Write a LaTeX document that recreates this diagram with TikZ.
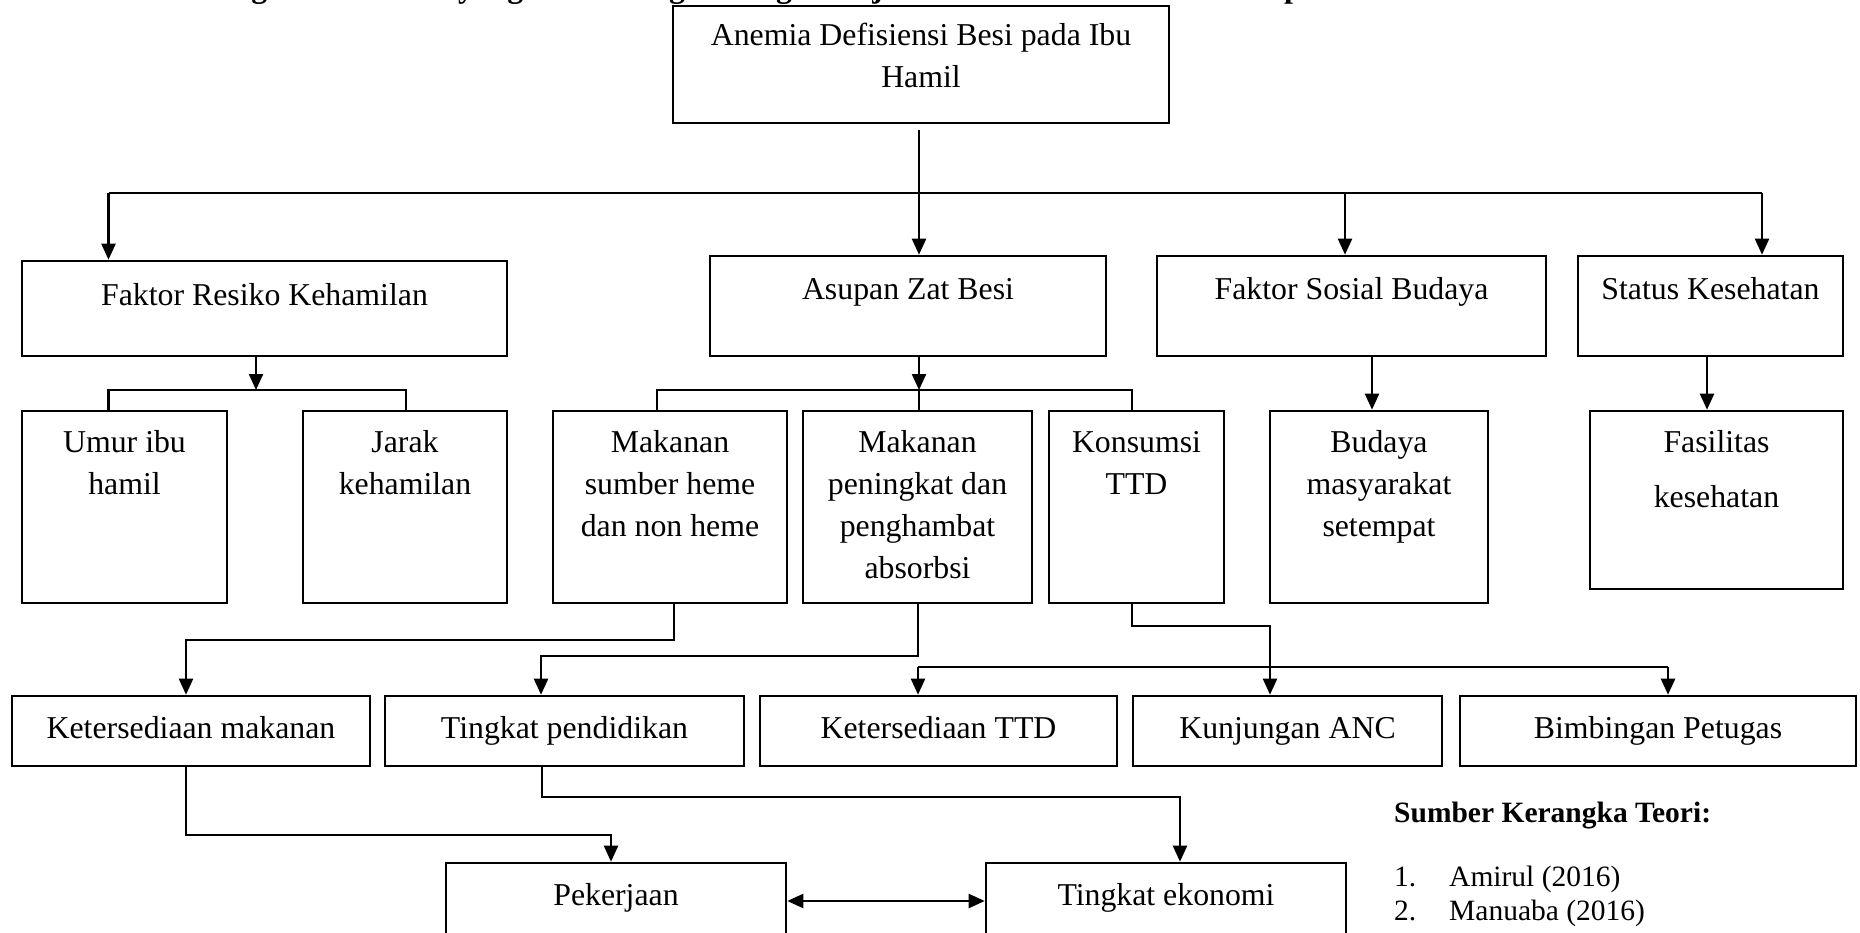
\documentclass[tikz,border=0pt]{standalone}
\usepackage{fontspec}
\setmainfont{Liberation Serif}
\usetikzlibrary{arrows.meta,fit,calc}
\newcommand\mlines[1]{\begin{tabular}[t]{@{}c@{}}#1\end{tabular}}
\begin{document}
\begin{tikzpicture}[x=1pt,y=-1pt,
  boxst/.style={draw=black,line width=2.6pt,inner sep=0pt},
  txt/.style={inner sep=0pt,anchor=base,font=\fontsize{31.8}{42}\selectfont},
  srcb/.style={inner sep=0pt,anchor=base west,font=\fontsize{29.5}{36}\selectfont\bfseries},
  src/.style={inner sep=0pt,anchor=base west,font=\fontsize{29.5}{36}\selectfont},
  ln/.style={draw=black,line width=2.3pt},
  arr/.style={ln,-{Triangle[length=16pt,width=14pt]}},
  darr/.style={ln,{Triangle[length=16pt,width=14pt]}-{Triangle[length=16pt,width=14pt]}}]
\useasboundingbox (0,0) rectangle (1860,933);
\fill[white] (0,0) rectangle (1860,933);

% clipped title (only descenders visible)
\node[inner sep=0pt,anchor=base west,font=\fontsize{31.8}{42}\selectfont\bfseries] (title) at (214,-2)
  {Bagan 2.1 Faktor yang Berhubungan dengan Kejadian Anemia Defisiensi Besi pada Ibu Hamil};

% boxes
\node[boxst,fit={(673,6)(1169,123)}] (top) {};
\node[boxst,fit={(22,261)(507,356)}] (fr) {};
\node[boxst,fit={(710,256)(1106,356)}] (az) {};
\node[boxst,fit={(1157,256)(1546,356)}] (fs) {};
\node[boxst,fit={(1578,256)(1843,356)}] (sk) {};
\node[boxst,fit={(22,411)(227,603)}] (um) {};
\node[boxst,fit={(303,411)(507,603)}] (jk) {};
\node[boxst,fit={(553,411)(787,603)}] (m1) {};
\node[boxst,fit={(803,411)(1032,603)}] (m2) {};
\node[boxst,fit={(1049,411)(1224,603)}] (kt) {};
\node[boxst,fit={(1270,411)(1488,603)}] (bd) {};
\node[boxst,fit={(1590,411)(1843,589)}] (fk) {};
\node[boxst,fit={(12,696)(370,766)}] (km) {};
\node[boxst,fit={(385,696)(744,766)}] (tp) {};
\node[boxst,fit={(760,696)(1117,766)}] (ktd) {};
\node[boxst,fit={(1133,696)(1442,766)}] (ka) {};
\node[boxst,fit={(1460,696)(1856,766)}] (bp) {};
\node[boxst,fit={(446,863)(786,955)}] (pk) {};
\node[boxst,fit={(986,863)(1346,955)}] (te) {};

% texts
\node[txt] (top-t) at ($(top.north)+(0,41)$) {\mlines{Anemia Defisiensi Besi pada Ibu\\Hamil}};
\node[txt] (fr-t) at ($(fr.north)+(0,46)$) {Faktor Resiko Kehamilan};
\node[txt] (az-t) at ($(az.north)+(0,45)$) {Asupan Zat Besi};
\node[txt] (fs-t) at ($(fs.north)+(0,45)$) {Faktor Sosial Budaya};
\node[txt] (sk-t) at ($(sk.north)+(0,45)$) {Status Kesehatan};
\node[txt] (um-t) at ($(um.north)+(0,43)$) {\mlines{Umur ibu\\hamil}};
\node[txt] (jk-t) at ($(jk.north)+(0,43)$) {\mlines{Jarak\\kehamilan}};
\node[txt] (m1-t) at ($(m1.north)+(0,43)$) {\mlines{Makanan\\sumber heme\\dan non heme}};
\node[txt] (m2-t) at ($(m2.north)+(0,43)$) {\mlines{Makanan\\peningkat dan\\penghambat\\absorbsi}};
\node[txt] (kt-t) at ($(kt.north)+(0,43)$) {\mlines{Konsumsi\\TTD}};
\node[txt] (bd-t) at ($(bd.north)+(0,43)$) {\mlines{Budaya\\masyarakat\\setempat}};
\node[txt] (fk-t) at ($(fk.north)+(0,43)$) {\mlines{Fasilitas\\[13pt]kesehatan}};
\node[txt] (km-t) at ($(km.north)+(0,44)$) {Ketersediaan makanan};
\node[txt] (tp-t) at ($(tp.north)+(0,44)$) {Tingkat pendidikan};
\node[txt] (ktd-t) at ($(ktd.north)+(0,44)$) {Ketersediaan TTD};
\node[txt] (ka-t) at ($(ka.north)+(0,44)$) {Kunjungan ANC};
\node[txt] (bp-t) at ($(bp.north)+(0,44)$) {Bimbingan Petugas};
\node[txt] (pk-t) at ($(pk.north)+(0,44)$) {Pekerjaan};
\node[txt] (te-t) at ($(te.north)+(0,44)$) {Tingkat ekonomi};

% source list
\node[srcb] (srct) at (1394,822) {Sumber Kerangka Teori:};
\node[src] (n1) at (1394,886) {1.};
\node[src] (a1) at (1449,886) {Amirul (2016)};
\node[src] (n2) at (1394,920) {2.};
\node[src] (a2) at (1449,920) {Manuaba (2016)};

% coordinates
\coordinate (hL) at (108.5,193);
\coordinate (hM) at (919,193);
\coordinate (hS) at (1345,193);
\coordinate (hR) at (1762,193);
\coordinate (b1L) at (108.5,390);
\coordinate (b1M) at (256,390);
\coordinate (b1R) at (405.7,390);
\coordinate (b2L) at (657,390);
\coordinate (b2M) at (919,390);
\coordinate (b2R) at (1132,390);
\coordinate (c3) at (1372,0);
\coordinate (c4) at (1707,0);
\coordinate (r1a) at (674,640);
\coordinate (r1b) at (186,640);
\coordinate (r2a) at (918,656);
\coordinate (r2b) at (541,656);
\coordinate (dL) at (918,667);
\coordinate (dR) at (1668,667);
\coordinate (r3a) at (1132,626);
\coordinate (r3b) at (1270,626);
\coordinate (r4a) at (186,835);
\coordinate (r4b) at (611,835);
\coordinate (r5a) at (542,797);
\coordinate (r5b) at (1180,797);
\coordinate (r6) at (0,901);

% connectors level 1
\draw[ln] ([yshift=-6pt]top.south -| hM) -- (hM);
\draw[ln] (hL) -- (hR);
\draw[arr] (hL) -- (hL |- fr.north);
\draw[arr] (hM) -- (hM |- az.north);
\draw[arr] (hS) -- (hS |- fs.north);
\draw[arr] (hR) -- (hR |- sk.north);

% level 2
\draw[arr] (b1M |- fr.south) -- (b1M);
\draw[ln] (b1L |- um.north) -- (b1L) -- (b1R) -- (b1R |- jk.north);
\draw[arr] (b2M |- az.south) -- (b2M);
\draw[ln] (b2L |- m1.north) -- (b2L) -- (b2R) -- (b2R |- kt.north);
\draw[ln] (b2M) -- (b2M |- m2.north);
\draw[arr] (c3 |- fs.south) -- (c3 |- bd.north);
\draw[arr] (c4 |- sk.south) -- (c4 |- fk.north);

% level 3
\draw[arr] (r1a |- m1.south) -- (r1a) -- (r1b) -- (r1b |- km.north);
\draw[arr] (r2a |- m2.south) -- (r2a) -- (r2b) -- (r2b |- tp.north);
\draw[arr] (r3a |- kt.south) -- (r3a) -- (r3b) -- (r3b |- ka.north);
\draw[ln] (dL) -- (dR);
\draw[arr] (dL) -- (dL |- ktd.north);
\draw[arr] (dR) -- (dR |- bp.north);

% level 4
\draw[arr] (r4a |- km.south) -- (r4a) -- (r4b) -- (r4b |- pk.north);
\draw[arr] (r5a |- tp.south) -- (r5a) -- (r5b) -- (r5b |- te.north);
\draw[darr] (pk.east |- r6) -- (te.west |- r6);
\end{tikzpicture}
\end{document}
